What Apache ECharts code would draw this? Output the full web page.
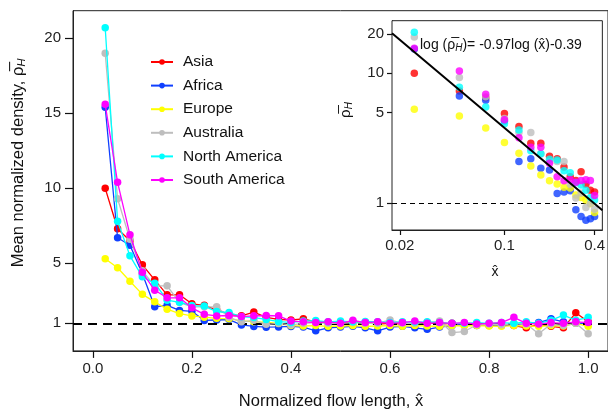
<!DOCTYPE html>
<html>
<head>
<meta charset="utf-8">
<script src="https://cdn.jsdelivr.net/npm/echarts@6/dist/echarts.min.js"></script>
<style>
html,body{margin:0;padding:0;background:#fff;}
#c{width:608px;height:413px;}
</style>
</head>
<body>
<div id="c"></div>
<script>
// ---- data ----
const xVals = [0.025,0.05,0.075,0.1,0.125,0.15,0.175,0.2,0.225,0.25,
               0.275,0.3,0.325,0.35,0.375,0.4,0.425,0.45,0.475,0.5,
               0.525,0.55,0.575,0.6,0.625,0.65,0.675,0.7,0.725,0.75,
               0.775,0.8,0.825,0.85,0.875,0.9,0.925,0.95,0.975,1.0];
const seriesNames = ['Asia','Africa','Europe','Australia','North America','South America'];
const asia = [10.0,7.3,6.5,4.9,3.9,2.9,2.9,2.3,2.2,1.9,
              1.6,1.5,1.75,1.4,1.26,1.22,1.3,1.1,1.05,1.0,
              1.1,1.05,0.95,1.0,0.95,1.0,1.05,0.95,1.0,0.9,
              0.95,0.85,0.9,0.85,0.7,0.95,0.8,0.7,1.7,1.1];
const africa = [15.4,6.7,6.2,4.3,2.1,2.2,1.86,1.8,1.19,1.22,
                1.25,0.89,0.79,0.74,0.76,0.79,0.75,0.5,0.7,0.75,
                0.8,0.7,0.5,0.75,0.8,0.7,0.6,0.75,0.85,0.95,
                0.85,0.9,0.85,0.9,1.0,1.05,1.3,1.1,1.0,1.0];
const europe = [5.3,4.7,3.8,2.93,2.43,1.94,1.65,1.49,1.41,1.33,
                1.31,1.16,1.11,1.06,0.99,0.85,0.82,0.85,0.8,0.82,
                0.85,0.8,0.82,0.85,0.8,0.85,0.82,0.8,0.85,0.82,
                0.85,0.82,0.8,0.85,0.82,0.8,0.85,0.82,1.0,0.8];
const australia = [19.0,9.3,6.6,4.5,3.5,3.5,2.4,2.1,2.1,2.1,
                   1.4,1.1,1.2,0.93,1.0,0.9,1.0,1.05,1.0,1.0,
                   1.05,1.0,1.0,1.22,1.0,1.0,1.05,1.15,0.38,0.45,
                   0.9,0.95,0.9,1.0,0.95,0.3,0.95,0.85,1.0,0.3];
const northAmerica = [20.7,7.8,5.5,4.1,3.67,2.54,2.4,2.18,2.15,1.78,
                      1.72,1.44,1.38,1.26,1.11,1.06,1.15,1.18,1.1,1.15,
                      1.1,1.12,1.1,1.05,1.1,1.08,1.1,1.05,1.0,1.0,
                      1.05,1.0,1.05,1.0,1.1,1.0,1.2,1.55,1.2,1.4];
const southAmerica = [15.6,10.4,6.9,4.4,3.2,2.7,2.7,2.03,1.6,1.49,
                      1.52,1.45,1.5,1.52,1.5,1.15,1.1,1.05,1.1,1.0,
                      1.2,1.05,1.1,1.0,1.05,1.15,1.0,1.05,1.0,1.05,
                      0.95,1.0,1.05,1.4,1.0,0.95,1.05,1.0,1.1,1.05];
const seriesValues = [asia, africa, europe, australia, northAmerica, southAmerica];
const seriesColors = ['#ff0000','#1040ff','#ffff00','#bebebe','#00ffff','#ff00ff'];

const mainXTicks = [0,0.2,0.4,0.6,0.8,1.0];
const mainYTicks = [1,5,10,15,20];
const insetXTicks = [0.02,0.1,0.4];
const insetYTicks = [1,5,10,20];
const insetMaxX = 0.4;
// fitted line log(rho) = -0.97 log(x) - 0.39, endpoints at the inset x-limits
const fitX = [0.01774, 0.4508];
const fitY = [20.3, 0.883];

const FONT = 'Liberation Sans, Arial, sans-serif';
const chart = echarts.init(document.getElementById('c'), null, {renderer:'canvas'});

const series = [];
series.push({type:'line', xAxisIndex:0, yAxisIndex:0, data:[], silent:true, z:1,
  markLine:{symbol:'none', silent:true, label:{show:false},
    lineStyle:{color:'#000', width:2, type:[9,6]}, data:[{yAxis:1}]}});
seriesNames.forEach((n,k)=>{
  series.push({name:n, type:'line', xAxisIndex:0, yAxisIndex:0,
    data: xVals.map((x,i)=>[x, seriesValues[k][i]]),
    symbol:'circle', symbolSize:7.5, showSymbol:true,
    lineStyle:{color:seriesColors[k], width:1.3},
    itemStyle:{color:seriesColors[k]}, z:2+k, animation:false});
});
seriesNames.forEach((n,k)=>{
  const d = [];
  xVals.forEach((x,i)=>{ if (x <= insetMaxX + 1e-9) d.push([x, seriesValues[k][i]]); });
  series.push({name:n+' (log)', type:'scatter', xAxisIndex:1, yAxisIndex:1,
    data:d, symbol:'circle', symbolSize:7.5,
    itemStyle:{color:seriesColors[k]}, z:10+k, animation:false});
});
series.push({type:'line', xAxisIndex:1, yAxisIndex:1,
  data: fitX.map((x,i)=>[x, fitY[i]]), symbol:'none', z:20,
  lineStyle:{color:'#000', width:2}, animation:false,
  markLine:{symbol:'none', silent:true, label:{show:false},
    lineStyle:{color:'#000', width:1, type:[5,4]}, data:[{yAxis:1}]}});

const fmt = v => String(Math.round(v*1000)/1000);
const axLine = {show:true, onZero:false, lineStyle:{color:'#222', width:1}};
const tickStyle = {color:'#111', width:1.2};

chart.setOption({
  animation:false,
  backgroundColor:'#fff',
  grid:[
    {left:73, top:10.7, width:539, height:340.2, show:true, borderColor:'#222', borderWidth:1, backgroundColor:'transparent'},
    {left:392, top:20.7, width:211, height:209.3, show:true, borderColor:'#222', borderWidth:1, backgroundColor:'#fff', z:5}
  ],
  legend:{
    orient:'vertical', left:145, top:49, itemWidth:22, itemHeight:7, itemGap:7.6,
    data: seriesNames,
    textStyle:{fontFamily:FONT, fontSize:15.5, color:'#111', padding:[0,0,0,5]}
  },
  xAxis:[
    {type:'value', gridIndex:0, min:-0.04, max:1.04,
      axisLine:axLine, splitLine:{show:false},
      axisTick:{show:true, customValues:mainXTicks, length:7, lineStyle:tickStyle},
      axisLabel:{customValues:mainXTicks, formatter:v=>v.toFixed(1), fontFamily:FONT, fontSize:15, color:'#222', margin:10}},
    {type:'log', gridIndex:1, min:fitX[0], max:fitX[1], logBase:10,
      axisLine:axLine, splitLine:{show:false}, minorTick:{show:false},
      axisTick:{show:true, customValues:insetXTicks, length:5, lineStyle:tickStyle},
      axisLabel:{customValues:insetXTicks, formatter:fmt, fontFamily:FONT, fontSize:15, color:'#222', margin:8}}
  ],
  yAxis:[
    {type:'value', gridIndex:0, min:-0.84, max:21.84,
      axisLine:axLine, splitLine:{show:false},
      axisTick:{show:true, customValues:mainYTicks, length:8, lineStyle:tickStyle},
      axisLabel:{customValues:mainYTicks, formatter:v=>String(Math.round(v)), fontFamily:FONT, fontSize:15, color:'#222', margin:12}},
    {type:'log', gridIndex:1, min:0.623, max:25.4, logBase:10,
      axisLine:axLine, splitLine:{show:false}, minorTick:{show:false},
      axisTick:{show:true, customValues:insetYTicks, length:5, lineStyle:tickStyle},
      axisLabel:{customValues:insetYTicks, formatter:fmt, fontFamily:FONT, fontSize:15, color:'#222', margin:8}}
  ],
  graphic:[
    {type:'text', x:18, y:163, rotation:Math.PI/2, z:50,
      style:{text:'{a|Mean normalized density, ρ\u0305}{s|H}', textAlign:'center', textVerticalAlign:'middle',
        rich:{a:{fontFamily:FONT, fontSize:16.5, fill:'#111'}, s:{fontFamily:FONT, fontSize:11, fontStyle:'italic', fill:'#111', padding:[8,0,0,0]}}}},
    {type:'text', x:331, y:401, z:50,
      style:{text:'Normalized flow length, x\u0302', textAlign:'center', textVerticalAlign:'middle',
        fontFamily:FONT, fontSize:16.5, fill:'#111'}},
    {type:'text', x:346, y:110, rotation:Math.PI/2, z:50,
      style:{text:'{a|ρ\u0305}{s|H}', textAlign:'center', textVerticalAlign:'middle',
        rich:{a:{fontFamily:FONT, fontSize:15, fill:'#111'}, s:{fontFamily:FONT, fontSize:10, fontStyle:'italic', fill:'#111', padding:[7,0,0,0]}}}},
    {type:'text', x:495, y:272, z:50,
      style:{text:'x\u0302', textAlign:'center', textVerticalAlign:'middle',
        fontFamily:FONT, fontSize:14, fill:'#111'}},
    {type:'text', x:420, y:45, z:50,
      style:{text:'{a|log (ρ\u0305}{s|H}{a|)= -0.97log (x\u0302)-0.39}', textAlign:'left', textVerticalAlign:'middle',
        rich:{a:{fontFamily:FONT, fontSize:14, fill:'#111'}, s:{fontFamily:FONT, fontSize:10, fontStyle:'italic', fill:'#111', padding:[6,0,0,0]}}}}
  ],
  series: series
});
</script>
</body>
</html>
